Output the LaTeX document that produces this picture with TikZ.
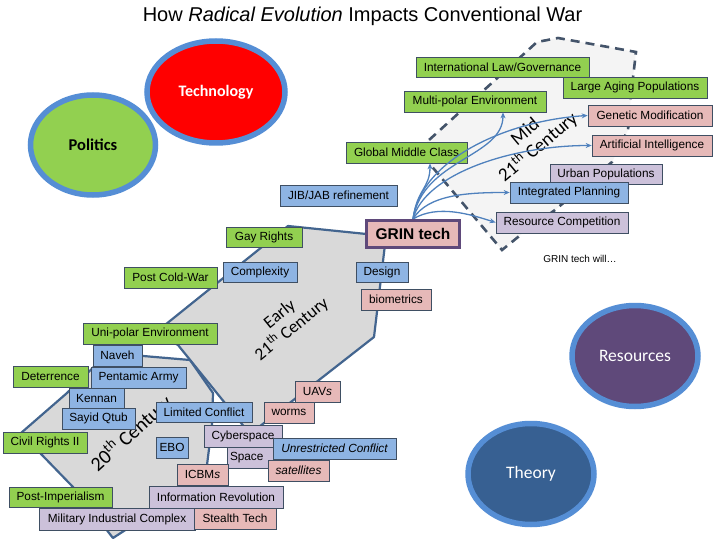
\documentclass[tikz,border=0pt]{standalone}
\usepackage{fontspec}
\setmainfont{Liberation Sans}
\newfontfamily\carlito{Carlito}
\usetikzlibrary{shapes.geometric,arrows.meta,calc}
\definecolor{cgreen}{HTML}{92D050}
\definecolor{cblue}{HTML}{8EB4E3}
\definecolor{cpink}{HTML}{E6B9B8}
\definecolor{clav}{HTML}{CCC1DA}
\definecolor{cborder}{HTML}{3F4F63}
\definecolor{ring}{HTML}{558ED5}
\definecolor{cpurple}{HTML}{5F497A}
\definecolor{ctheory}{HTML}{376092}
\definecolor{cregion}{HTML}{D9D9D9}
\definecolor{cregionedge}{HTML}{43658F}
\definecolor{midfill}{HTML}{F4F4F4}
\definecolor{midedge}{HTML}{44546A}
\definecolor{arrowc}{HTML}{4F81BD}
\tikzset{
  box/.style={draw=cborder, line width=0.7pt, inner sep=0pt, text=black,
    font=\fontsize{11.8}{13}\selectfont},
  gbox/.style={box, fill=cgreen},
  bbox/.style={box, fill=cblue},
  pbox/.style={box, fill=cpink},
  lbox/.style={box, fill=clav},
  sz/.style 2 args={minimum width=#1, minimum height=#2},
  circ/.style={ellipse, draw=ring, line width=5.5pt, inner sep=0pt},
  region/.style={fill=cregion, draw=cregionedge, line width=2.2pt, line join=round},
  midregion/.style={fill=midfill, draw=midedge, line width=2.6pt, dash pattern=on 9pt off 6pt},
  era/.style={align=center, text=black},
  grinarrow/.style={draw=arrowc, line width=1.3pt, -{Stealth[length=6pt,width=5pt]}},
}
\begin{document}
\begin{tikzpicture}[x=1pt,y=-1pt]
\useasboundingbox[fill=white] (0,0) rectangle (720,540);

% title
\node[font=\fontsize{20}{22}\selectfont] (title) at (362.5,16) {How \textit{Radical Evolution} Impacts Conventional War};

% circles
\node[circ, fill=red, minimum width=138, minimum height=102, text=white,
  font=\carlito\bfseries\fontsize{16}{18}\selectfont] (tech) at (216,92) {Technology};
\node[circ, fill=cgreen, minimum width=125, minimum height=100, text=black,
  font=\carlito\bfseries\fontsize{16.5}{18}\selectfont] (politics) at (93,145) {Politics};
\node[circ, fill=cpurple, minimum width=126, minimum height=101, text=white,
  font=\carlito\fontsize{17.5}{20}\selectfont] (resources) at (635,356) {Resources};
\node[circ, fill=ctheory, minimum width=126, minimum height=101, text=white,
  font=\carlito\fontsize{17.5}{20}\selectfont] (theory) at (531,474) {Theory};

% regions
\draw[midregion] (418,150) -- (537,42) -- (558,38) -- (636,52) -- (631,95) -- (628,130)
  -- (612,162) -- (555,210) -- (523,233) -- (502,250) -- cycle;
\draw[region] (108,353) -- (190,360) -- (213,393) -- (212,425) -- (207,465) -- (203,485)
  -- (130,527) -- (113,538) -- (73,487) -- (42,455) -- (21,433) -- (67,393) -- cycle;
\draw[region] (288,226) -- (386,236) -- (374,337) -- (250,434) -- (178,345) -- (155,333) -- cycle;

% era labels
\node[era, rotate=40, font=\carlito\fontsize{19}{20}\selectfont] (midlbl) at (532,140) {Mid\\21\textsuperscript{th} Century};
\node[era, rotate=39, font=\carlito\fontsize{17.5}{19}\selectfont] (earlylbl) at (286,322) {Early\\21\textsuperscript{th} Century};
\node[era, rotate=42, font=\carlito\fontsize{20}{22}\selectfont] (twentlbl) at (131,433) {20\textsuperscript{th} Century};

% boxes (upper right)
\node[gbox, sz={173}{20}] (intlaw) at (502.5,67) {International Law/Governance};
\node[gbox, sz={144}{21}] (aging) at (635,87.5) {Large Aging Populations};
\node[gbox, sz={142}{21}] (multipolar) at (475,101.5) {Multi-polar Environment};
\node[pbox, sz={124}{21}] (genetic) at (650,115.5) {Genetic Modification};
\node[pbox, sz={120}{21}] (ai) at (652,145.5) {Artificial Intelligence};
\node[gbox, sz={121}{21}] (gmc) at (406.5,152.5) {Global Middle Class};
\node[lbox, sz={112}{20}] (urban) at (606,174) {Urban Populations};
\node[bbox, sz={118}{21}] (intplan) at (569,192.5) {Integrated Planning};
\node[lbox, sz={132}{21}] (rescomp) at (562,222.5) {Resource Competition};
\node[bbox, sz={117}{21}] (jib) at (338.5,195.5) {JIB/JAB refinement};

% arrows from GRIN tech
\coordinate (grintop) at (413,219);
\draw[grinarrow] (grintop) .. controls +(4,-30) and +(0,25) .. ($(gmc.south)+(23.5,0)$);
\draw[grinarrow] (grintop) .. controls +(10,-60) and +(0,45) .. ($(multipolar.south)+(28,0)$);
\draw[grinarrow] (grintop) .. controls +(8,-60) and +(-80,5) .. (genetic.west);
\draw[grinarrow] (grintop) .. controls +(12,-45) and +(-80,0) .. (ai.west);
\draw[grinarrow] (grintop) .. controls +(15,-25) and +(-40,0) .. (intplan.west);
\draw[grinarrow] (grintop) .. controls +(25,-15) and +(-25,-8) .. (rescomp.west);

\node[pbox, draw=cpurple, line width=3pt, sz={93}{27},
  font=\bfseries\fontsize{15.5}{18}\selectfont] (grin) at (413,234) {GRIN tech};
\node[font=\fontsize{10}{12}\selectfont] (will) at (580,259) {GRIN tech will…};

% early 21st
\node[gbox, sz={76}{20}] (gay) at (264,237) {Gay Rights};
\node[bbox, sz={74}{20}] (complexity) at (260,272) {Complexity};
\node[bbox, sz={52}{20}] (design) at (382,272) {Design};
\node[pbox, sz={70}{21}] (biometrics) at (396,299.5) {biometrics};
\node[gbox, sz={93}{21}] (postcold) at (170.5,277.5) {Post Cold-War};
\node[gbox, sz={134}{21}] (unipolar) at (150,333.5) {Uni-polar Environment};
\node[bbox, sz={49}{21}] (naveh) at (117.5,355.5) {Naveh};
\node[gbox, sz={75}{21}] (deterrence) at (50.5,376.5) {Deterrence};
\node[bbox, sz={95}{21}] (pentamic) at (138.5,377.5) {Pentamic Army};
\node[bbox, sz={55}{20}] (kennan) at (96.5,398) {Kennan};
\node[bbox, sz={73}{21}] (sayid) at (98.5,418.5) {Sayid Qtub};
\node[bbox, sz={96}{20}] (limited) at (204,412) {Limited Conflict};
\node[pbox, sz={45}{21}] (uavs) at (317.5,391.5) {UAV\textit{s}};
\node[pbox, sz={50}{21}] (worms) at (289,412.5) {worms};
\node[gbox, sz={84}{21}] (civil) at (45,442.5) {Civil Rights II};
\node[lbox, sz={78}{22}] (cyber) at (243,436) {Cyberspace};
\node[bbox, sz={32}{21}] (ebo) at (172,447.5) {EBO};
\node[lbox, sz={56}{21}, text width=50, align=left] (space) at (255,457.5) {Space};
\node[bbox, sz={123}{21}, font=\itshape\fontsize{11.8}{13}\selectfont] (unrestricted) at (334.5,448.5) {Unrestricted Conflict};
\node[pbox, sz={61}{21}, font=\itshape\fontsize{11.8}{13}\selectfont] (satellites) at (298.5,470.5) {satellites};
\node[pbox, sz={51}{21}] (icbms) at (202.5,474.5) {ICBM\textit{s}};
\node[gbox, sz={103}{20}] (postimp) at (60.5,497) {Post-Imperialism};
\node[lbox, sz={134}{22}] (inforev) at (216,497) {Information Revolution};
\node[lbox, sz={156}{22}] (mic) at (117,519) {Military Industrial Complex};
\node[pbox, sz={82}{21}] (stealth) at (235,518.5) {Stealth Tech};
\end{tikzpicture}
\end{document}
